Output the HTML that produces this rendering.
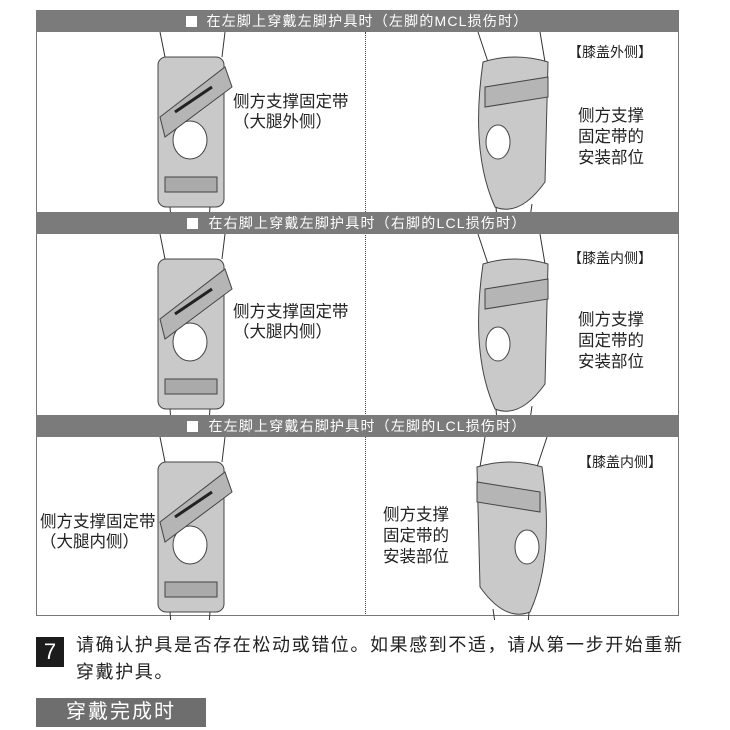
<!DOCTYPE html>
<html><head><meta charset="utf-8"><style>
body{margin:0;width:730px;height:730px;background:#fff;position:relative;overflow:hidden;font-family:"Liberation Sans","Noto Sans CJK SC",sans-serif;color:#222}
.a{position:absolute}
.hd{position:absolute;left:36px;width:642px;height:22px;background:#7b7b7b;color:#fff;font-size:14px;letter-spacing:1.2px;line-height:22px;text-align:center}
.hd b{display:inline-block;width:11px;height:11px;background:#fff;margin-right:10px;vertical-align:-1px}
.lb{position:absolute;font-size:16.5px;line-height:20px;color:#222}
</style></head><body>
<div class="a" style="left:36px;top:10px;width:641px;height:604px;border:1px solid #777"></div>
<div class="a" style="left:365px;top:32px;height:582px;border-left:1px dotted #444"></div>

<svg class="a" style="left:0;top:0" width="730" height="620">
<defs>
<g id="kl">
<path d="M160 0 L165 25 M225 0 L222 25" stroke="#333" fill="none"/>
<rect x="158" y="25" width="66" height="150" rx="8" fill="#c9c9c9" stroke="#444"/>
<path d="M170 175 L172 200 M210 175 L208 200" stroke="#333"/>
<ellipse cx="190" cy="108" rx="17" ry="19" fill="#fff" stroke="#444"/>
<path d="M160 85 L225 35 L232 55 L165 105 Z" fill="#b5b5b5" stroke="#444"/>
<rect x="165" y="145" width="52" height="15" fill="#aaa" stroke="#444"/>
<path d="M175 80 L212 55" stroke="#222" stroke-width="3"/>
</g>
<g id="kr">
<path d="M478 0 L488 30 M540 0 L545 30" stroke="#333" fill="none"/>
<path d="M483 30 Q515 20 548 30 L545 150 Q520 185 495 175 Q470 120 483 30Z" fill="#c9c9c9" stroke="#444"/>
<path d="M496 175 L498 200 M532 172 L528 200" stroke="#333"/>
<path d="M485 55 L548 45 L548 65 L485 75Z" fill="#b5b5b5" stroke="#444"/>
<ellipse cx="498" cy="110" rx="12" ry="17" fill="#fff" stroke="#444"/>
</g>
</defs>
<use href="#kl" y="32"/>
<use href="#kr" y="32"/>
<use href="#kl" y="234"/>
<use href="#kr" y="234"/>
<use href="#kl" y="437"/>
<use href="#kr" y="437" transform="translate(1025 0) scale(-1 1)"/>
</svg>

<div class="hd" style="top:10px"><b></b>在左脚上穿戴左脚护具时（左脚的MCL损伤时）</div>
<div class="hd" style="top:212px"><b></b>在右脚上穿戴左脚护具时（右脚的LCL损伤时）</div>
<div class="hd" style="top:415px"><b></b>在左脚上穿戴右脚护具时（左脚的LCL损伤时）</div>

<div class="lb" style="left:233px;top:92px">侧方支撑固定带<br>（大腿外侧）</div>
<div class="lb" style="left:568px;top:42px;font-size:14px">【膝盖外侧】</div>
<div class="lb" style="left:578px;top:106px;line-height:21px">侧方支撑<br>固定带的<br>安装部位</div>

<div class="lb" style="left:233px;top:302px">侧方支撑固定带<br>（大腿内侧）</div>
<div class="lb" style="left:568px;top:248px;font-size:14px">【膝盖内侧】</div>
<div class="lb" style="left:578px;top:310px;line-height:21px">侧方支撑<br>固定带的<br>安装部位</div>

<div class="lb" style="left:40px;top:512px">侧方支撑固定带<br>（大腿内侧）</div>
<div class="lb" style="left:578px;top:452px;font-size:14px">【膝盖内侧】</div>
<div class="lb" style="left:383px;top:505px;line-height:21px">侧方支撑<br>固定带的<br>安装部位</div>

<div class="a" style="left:36px;top:637px;width:28px;height:30px;background:#1c1c1c;color:#fff;font-size:22px;line-height:30px;text-align:center">7</div>
<div class="a" style="left:76px;top:632px;font-size:18px;letter-spacing:1.6px;line-height:27px;color:#222;white-space:nowrap">请确认护具是否存在松动或错位。如果感到不适，请从第一步开始重新<br>穿戴护具。</div>
<div class="a" style="left:36px;top:698px;width:170px;height:29px;background:#6e6e6e;color:#fff;font-size:20px;letter-spacing:2px;line-height:29px;padding-left:30px;box-sizing:border-box">穿戴完成时</div>
</body></html>
